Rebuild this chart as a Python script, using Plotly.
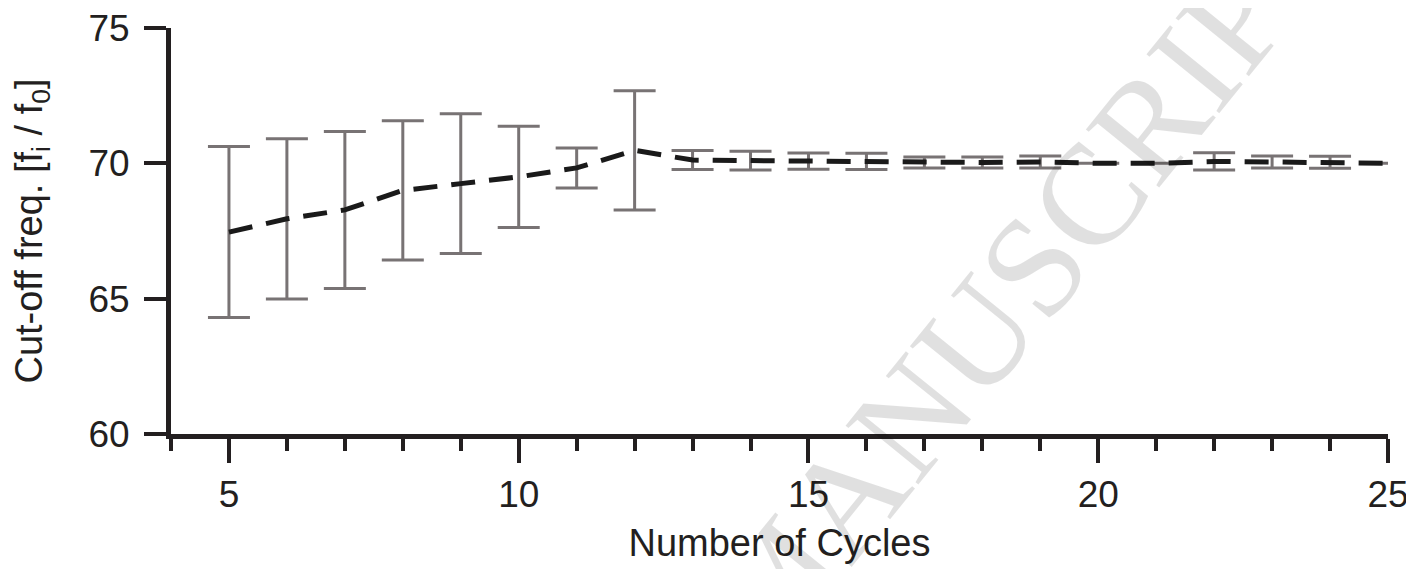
import plotly.graph_objects as go

# Data
cycles = [5, 6, 7, 8, 9, 10, 11, 12, 13, 14, 15, 16, 17, 18, 19, 20, 21, 22, 23, 24, 25]
cutoff_mean = [67.46, 67.95, 68.28, 69.00, 69.25, 69.50, 69.83, 70.48, 70.12, 70.10, 70.08,
               70.07, 70.03, 70.03, 70.05, 70.00, 70.00, 70.07, 70.05, 70.04, 70.00]
cutoff_err = [3.16, 2.96, 2.90, 2.57, 2.58, 1.87, 0.74, 2.20, 0.35, 0.35, 0.30,
              0.30, 0.20, 0.20, 0.22, 0.00, 0.00, 0.32, 0.22, 0.22, 0.00]
x_ticks = [5, 10, 15, 20, 25]
y_ticks = [60, 65, 70, 75]

FONT = "Liberation Sans, Arial, sans-serif"
INK = "#231f20"

fig = go.Figure()

# error bars (gray)
fig.add_trace(go.Scatter(
    x=cycles, y=cutoff_mean, mode="markers",
    marker=dict(size=1, opacity=0),
    error_y=dict(type="data", array=cutoff_err, visible=True,
                 color="#787374", thickness=3, width=21),
    cliponaxis=False, showlegend=False, hoverinfo="skip"))

# mean dashed line (black)
fig.add_trace(go.Scatter(
    x=cycles, y=cutoff_mean, mode="lines",
    line=dict(color="#1a1a1a", width=5, dash="24px,14px"),
    cliponaxis=False, showlegend=False))

# watermark
fig.add_annotation(
    text="ACCEPTED MANUSCRIPT", xref="paper", yref="paper",
    x=0.50, y=-0.36, xanchor="center", yanchor="middle",
    textangle=-51, showarrow=False,
    font=dict(family="Liberation Serif, Times New Roman, serif", size=143,
              color="rgba(0,0,0,0.12)"))

# the page adds an 8px body margin, so the figure is 8px smaller on each side
fig.update_layout(
    width=1406, height=561,
    margin=dict(l=163, r=26, t=20, b=135),
    paper_bgcolor="white", plot_bgcolor="white",
    font=dict(family=FONT, size=37, color=INK),
    xaxis=dict(
        range=[4, 25], tickmode="array", tickvals=x_ticks, automargin=False,
        ticks="outside", ticklen=24, tickwidth=4, tickcolor=INK,
        minor=dict(dtick=1, tick0=4, ticks="outside", ticklen=12, tickwidth=4,
                   tickcolor=INK),
        showline=True, linewidth=5, linecolor=INK,
        showgrid=False, zeroline=False, ticklabelstandoff=0,
        ticklabeloverflow="allow",
        tickfont=dict(size=37),
        title=dict(text="Number of Cycles", font=dict(size=38), standoff=16),
    ),
    yaxis=dict(
        range=[60, 75], tickmode="array", tickvals=y_ticks, automargin=False,
        ticks="outside", ticklen=22, tickwidth=4, tickcolor=INK,
        showline=True, linewidth=5, linecolor=INK,
        showgrid=False, zeroline=False, ticklabelstandoff=7,
        ticklabeloverflow="allow",
        tickfont=dict(size=37),
        title=dict(text="Cut-off freq. [f<sub>i</sub> / f<sub>0</sub>]",
                   font=dict(size=38), standoff=39),
    ),
)

fig.write_html("out.html")
